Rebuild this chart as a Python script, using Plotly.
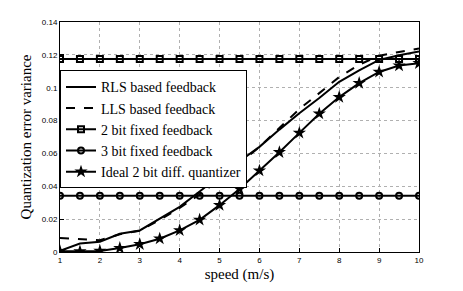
import plotly.graph_objects as go

speed = [1, 1.5, 2, 2.5, 3, 3.5, 4, 4.5, 5, 5.5, 6, 6.5, 7, 7.5, 8, 8.5, 9, 9.5, 10]
rls = [0.0008, 0.0052, 0.0063, 0.0111, 0.0131, 0.0202, 0.0275, 0.0368, 0.0463, 0.0552, 0.0640,
       0.0745, 0.0845, 0.0937, 0.1036, 0.1105, 0.1169, 0.1198, 0.1220]
lls = [0.0085, 0.0080, 0.0072, 0.0108, 0.0130, 0.0195, 0.0268, 0.0350, 0.0442, 0.0540, 0.0640,
       0.0755, 0.0870, 0.0967, 0.1065, 0.1140, 0.1195, 0.1218, 0.1238]
fixed2 = [0.1175] * 19
fixed3 = [0.0342] * 19
ideal = [0.0004, 0.0003, 0.0006, 0.0024, 0.0047, 0.0081, 0.0132, 0.0196, 0.0285, 0.0384, 0.0495,
         0.0607, 0.0725, 0.0842, 0.0943, 0.1028, 0.1096, 0.1135, 0.1149]

fig = go.Figure()
fig.add_trace(go.Scatter(x=speed, y=rls, mode="lines", name="RLS based feedback",
                         line=dict(color="black", width=2)))
fig.add_trace(go.Scatter(x=speed, y=lls, mode="lines", name="LLS based feedback",
                         line=dict(color="black", width=2, dash="dash")))
fig.add_trace(go.Scatter(x=speed, y=fixed2, mode="lines+markers", name="2 bit fixed feedback",
                         line=dict(color="black", width=2),
                         marker=dict(symbol="square-open", size=6, color="black", line=dict(width=2))))
fig.add_trace(go.Scatter(x=speed, y=fixed3, mode="lines+markers", name="3 bit fixed feedback",
                         line=dict(color="black", width=2),
                         marker=dict(symbol="circle-open", size=6, color="black", line=dict(width=2))))
fig.add_trace(go.Scatter(x=speed, y=ideal, mode="lines+markers", name="Ideal 2 bit diff. quantizer",
                         line=dict(color="black", width=2),
                         marker=dict(symbol="star", size=10, color="black")))

axis_common = dict(showline=True, linecolor="black", linewidth=1, mirror=True,
                   ticks="inside", ticklen=4, tickcolor="black",
                   showgrid=True, gridcolor="#b0b0b0", griddash="dot", gridwidth=1,
                   zeroline=False, tickfont=dict(family="Liberation Sans", size=8, color="black"))

fig.update_layout(
    width=463, height=291,
    margin=dict(l=60, r=44, t=22, b=33),
    paper_bgcolor="white", plot_bgcolor="white",
    font=dict(family="Liberation Serif", color="black"),
    xaxis=dict(range=[1, 10], dtick=1, tick0=1,
               title=dict(text="speed (m/s)", font=dict(family="Liberation Serif", size=15), standoff=4),
               **axis_common),
    yaxis=dict(range=[0, 0.14], dtick=0.02, tick0=0,
               title=dict(text="Quantization error variance", font=dict(family="Liberation Serif", size=15), standoff=6),
               **axis_common),
    legend=dict(x=0, y=0.79, xanchor="left", yanchor="top",
                bgcolor="white", bordercolor="black", borderwidth=1,
                font=dict(family="Liberation Serif", size=14, color="black"),
                tracegroupgap=0, itemwidth=30),
    showlegend=True,
)

fig.write_html("out.html", config={"displayModeBar": False},
               post_script="document.body.style.margin='0';document.body.style.padding='0';")
